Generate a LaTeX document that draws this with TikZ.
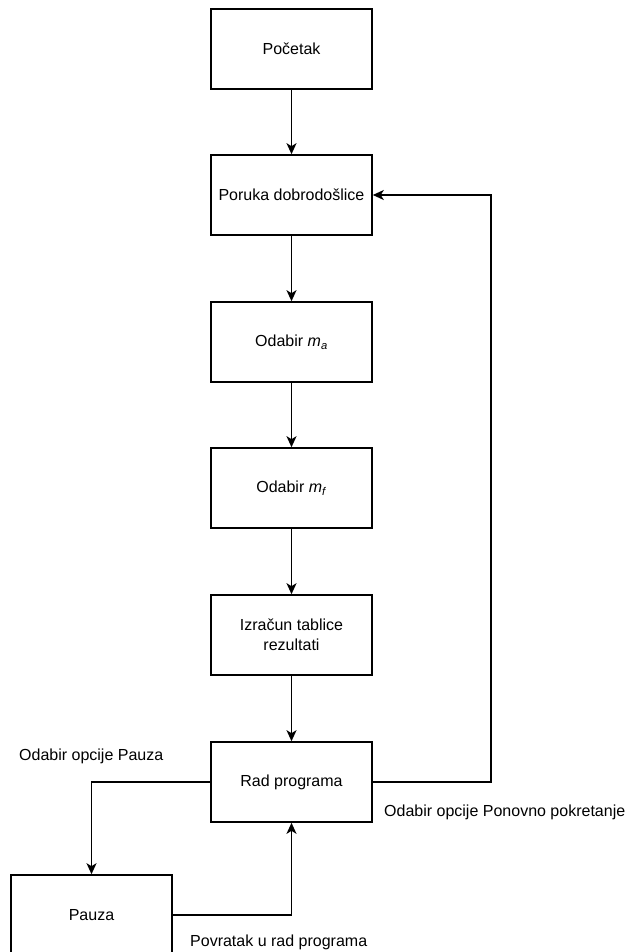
\documentclass[tikz,border=0pt]{standalone}
\usepackage{fontspec}
\setmainfont{Liberation Sans}
\usetikzlibrary{arrows.meta,positioning}

\begin{document}
\begin{tikzpicture}[x=1pt,y=-1pt,
  korak/.style={draw,line width=1.6pt,minimum width=161pt,minimum height=80pt,align=center,font=\fontsize{16}{20}\selectfont},
  oznaka/.style={anchor=west,inner sep=0pt,font=\fontsize{16}{20}\selectfont},
  veza/.style={line width=1.6pt,-{Stealth[length=11pt,width=10pt,inset=3pt]}}]
\useasboundingbox (0,0) rectangle (625,952);

\node[korak] (pocetak) at (291.5,49) {Početak};
\node[korak] (poruka) at (291.5,195) {Poruka dobrodošlice};
\node[korak] (ma) at (291.5,342) {Odabir \textit{m}\textsubscript{\textit{a}}};
\node[korak] (mf) at (291.5,488) {Odabir \textit{m}\textsubscript{\textit{f}}};
\node[korak] (izracun) at (291.5,635) {Izračun tablice\\rezultati};
\node[korak] (rad) at (291.5,782) {Rad programa};
\node[korak] (pauza) at (91.5,915) {Pauza};

\coordinate (desno) at (491,782);
\coordinate (gore) at (491,195);

\draw[veza] (pocetak) -- (poruka);
\draw[veza] (poruka) -- (ma);
\draw[veza] (ma) -- (mf);
\draw[veza] (mf) -- (izracun);
\draw[veza] (izracun) -- (rad);
\draw[veza] (rad.east) -- (desno) -- (gore) -- (poruka.east);
\draw[veza] (rad.west) -| (pauza.north);
\draw[veza] (pauza.east) -| (rad.south);

\node[oznaka] (l1) at (19,756) {Odabir opcije Pauza};
\node[oznaka] (l2) at (384,812) {Odabir opcije Ponovno pokretanje};
\node[oznaka] (l3) at (190,942) {Povratak u rad programa};
\end{tikzpicture}
\end{document}
